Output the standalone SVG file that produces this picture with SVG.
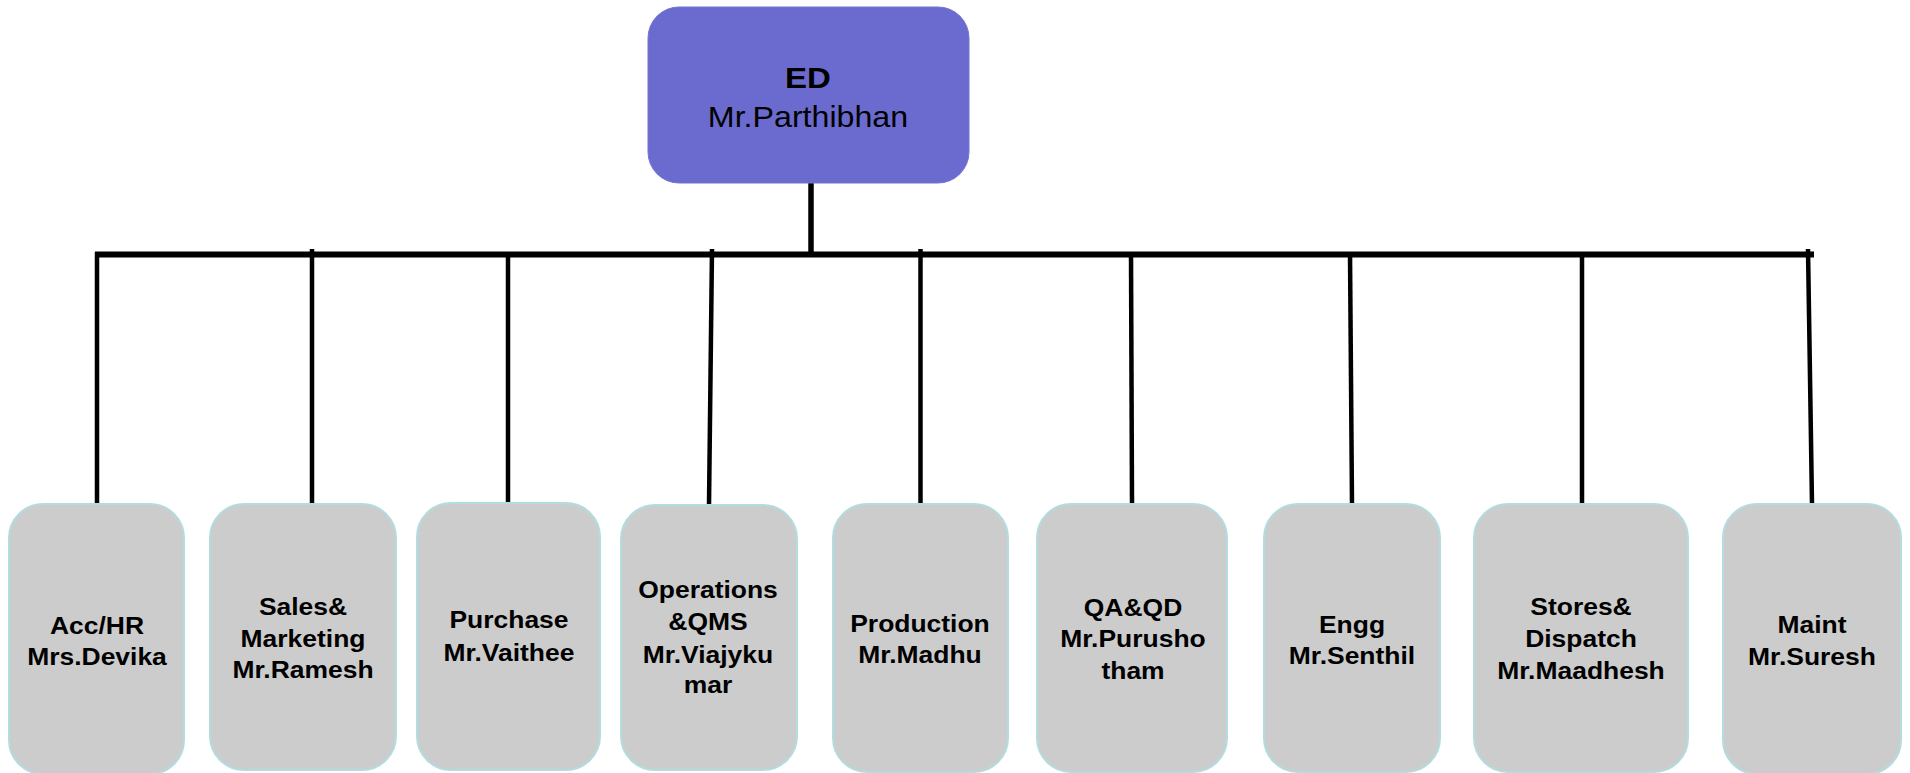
<svg xmlns="http://www.w3.org/2000/svg" width="1910" height="773" viewBox="0 0 1910 773">
<style>
.bg{fill:#ffffff}
.top{fill:#6b6bcf;stroke:#7474d4;stroke-width:1}
.box{fill:#cccccc;stroke:#b2dcdf;stroke-width:2}
.ln{stroke:#000000;fill:none;stroke-linecap:butt}
.bus{stroke-width:6}
.drop{stroke-width:4.5}
.t{font-family:"Liberation Sans",Arial,sans-serif;fill:#000000;text-anchor:middle}
.b{font-weight:bold;font-size:24.5px}
.edb{font-weight:bold;font-size:30px}
.edr{font-weight:normal;font-size:29px}
</style>
<rect class="bg" x="0" y="0" width="1910" height="773"/>
<g id="connectors">
<line class="ln" x1="811" y1="183" x2="811" y2="254" style="stroke-width:5.5"/>
<line class="ln bus" x1="95" y1="254.5" x2="1814" y2="254.5"/>
<line class="ln drop" x1="97" y1="252" x2="97" y2="505"/>
<line class="ln drop" x1="312" y1="249" x2="312" y2="504"/>
<line class="ln drop" x1="508" y1="254" x2="508" y2="503"/>
<line class="ln drop" x1="712" y1="249" x2="709" y2="505"/>
<line class="ln drop" x1="920.5" y1="249" x2="920.5" y2="504"/>
<line class="ln drop" x1="1131" y1="254" x2="1132" y2="504"/>
<line class="ln drop" x1="1350" y1="254" x2="1352" y2="504"/>
<line class="ln drop" x1="1582" y1="254" x2="1582" y2="504"/>
<line class="ln drop" x1="1808" y1="249" x2="1812" y2="504"/>
</g>
<g id="ed">
<rect class="top" x="648" y="7" width="321" height="176" rx="31" ry="31"/>
<text class="t edb" transform="translate(808,88) scale(1.1,1)">ED</text>
<text class="t edr" transform="translate(808,127) scale(1.11,1)">Mr.Parthibhan</text>
</g>
<g id="acc">
<rect class="box" x="9" y="504" width="175" height="270" rx="34" ry="34"/>
<text class="t b" transform="translate(97,634) scale(1.08,1)"><tspan x="0" y="0">Acc/HR</tspan><tspan x="0" y="31">Mrs.Devika</tspan></text>
</g>
<g id="sales">
<rect class="box" x="210" y="504" width="186" height="266" rx="34" ry="34"/>
<text class="t b" transform="translate(303,615) scale(1.08,1)"><tspan x="0" y="0">Sales&amp;</tspan><tspan x="0" y="32">Marketing</tspan><tspan x="0" y="63">Mr.Ramesh</tspan></text>
</g>
<g id="purchase">
<rect class="box" x="417" y="503" width="183" height="267" rx="34" ry="34"/>
<text class="t b" transform="translate(509,628) scale(1.08,1)"><tspan x="0" y="0">Purchase</tspan><tspan x="0" y="33">Mr.Vaithee</tspan></text>
</g>
<g id="operations">
<rect class="box" x="621" y="505" width="176" height="265" rx="34" ry="34"/>
<text class="t b" transform="translate(708,598) scale(1.08,1)"><tspan x="0" y="0">Operations</tspan><tspan x="0" y="32">&amp;QMS</tspan><tspan x="0" y="65">Mr.Viajyku</tspan><tspan x="0" y="95">mar</tspan></text>
</g>
<g id="production">
<rect class="box" x="833" y="504" width="175" height="268" rx="34" ry="34"/>
<text class="t b" transform="translate(920,632) scale(1.08,1)"><tspan x="0" y="0">Production</tspan><tspan x="0" y="31">Mr.Madhu</tspan></text>
</g>
<g id="qa">
<rect class="box" x="1037" y="504" width="190" height="268" rx="34" ry="34"/>
<text class="t b" transform="translate(1133,616) scale(1.08,1)"><tspan x="0" y="0">QA&amp;QD</tspan><tspan x="0" y="31">Mr.Purusho</tspan><tspan x="0" y="63">tham</tspan></text>
</g>
<g id="engg">
<rect class="box" x="1264" y="504" width="176" height="268" rx="34" ry="34"/>
<text class="t b" transform="translate(1352,633) scale(1.08,1)"><tspan x="0" y="0">Engg</tspan><tspan x="0" y="31">Mr.Senthil</tspan></text>
</g>
<g id="stores">
<rect class="box" x="1474" y="504" width="214" height="268" rx="34" ry="34"/>
<text class="t b" transform="translate(1581,615) scale(1.08,1)"><tspan x="0" y="0">Stores&amp;</tspan><tspan x="0" y="32">Dispatch</tspan><tspan x="0" y="64">Mr.Maadhesh</tspan></text>
</g>
<g id="maint">
<rect class="box" x="1723" y="504" width="178" height="270" rx="34" ry="34"/>
<text class="t b" transform="translate(1812,633) scale(1.08,1)"><tspan x="0" y="0">Maint</tspan><tspan x="0" y="32">Mr.Suresh</tspan></text>
</g>
</svg>
